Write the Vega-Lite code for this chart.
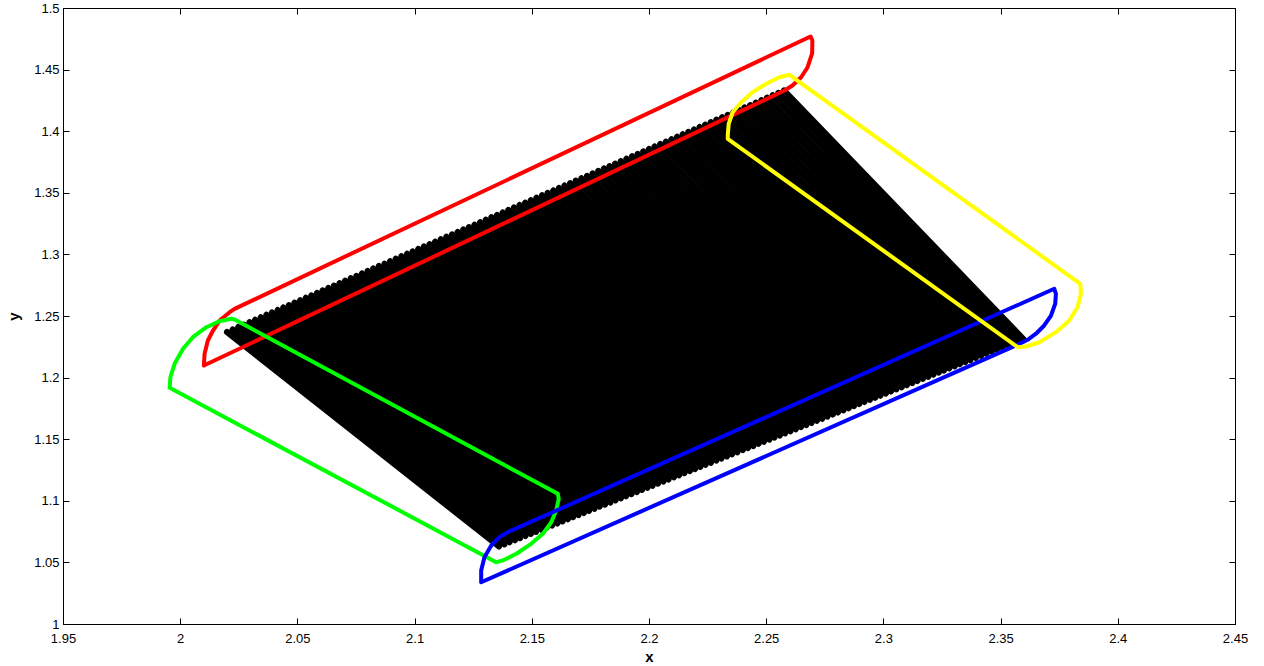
{
"$schema":"https://vega.github.io/schema/vega-lite/v6.json",
"width":1172,"height":616,
"autosize":{"type":"none"},
"padding":{"left":63,"top":8,"right":29,"bottom":42},
"background":"white",
"config":{"view":{"stroke":"black","strokeWidth":1},"axis":{"labelFont":"Liberation Sans","labelFontSize":13,"labelColor":"black","tickColor":"black","domainColor":"black","grid":false,"labelFlush":false,"labelOverlap":false,"labelBound":false,"titleFont":"Liberation Sans","titleFontWeight":"bold","titleFontSize":15,"titleColor":"black","tickSize":-6,"tickWidth":1,"domainWidth":1}},
"datasets":{
"stripes":[
{"x1":2.0200,"y1":1.2370,"x2":2.1360,"y2":1.0630},
{"x1":2.0224,"y1":1.2390,"x2":2.1383,"y2":1.0647},
{"x1":2.0248,"y1":1.2410,"x2":2.1405,"y2":1.0664},
{"x1":2.0272,"y1":1.2429,"x2":2.1428,"y2":1.0681},
{"x1":2.0296,"y1":1.2449,"x2":2.1450,"y2":1.0698},
{"x1":2.0320,"y1":1.2469,"x2":2.1473,"y2":1.0715},
{"x1":2.0344,"y1":1.2489,"x2":2.1496,"y2":1.0732},
{"x1":2.0368,"y1":1.2509,"x2":2.1518,"y2":1.0749},
{"x1":2.0392,"y1":1.2528,"x2":2.1541,"y2":1.0766},
{"x1":2.0416,"y1":1.2548,"x2":2.1563,"y2":1.0783},
{"x1":2.0440,"y1":1.2568,"x2":2.1586,"y2":1.0800},
{"x1":2.0464,"y1":1.2588,"x2":2.1609,"y2":1.0817},
{"x1":2.0488,"y1":1.2608,"x2":2.1631,"y2":1.0834},
{"x1":2.0512,"y1":1.2627,"x2":2.1654,"y2":1.0851},
{"x1":2.0536,"y1":1.2647,"x2":2.1676,"y2":1.0868},
{"x1":2.0560,"y1":1.2667,"x2":2.1699,"y2":1.0885},
{"x1":2.0584,"y1":1.2687,"x2":2.1722,"y2":1.0902},
{"x1":2.0608,"y1":1.2707,"x2":2.1744,"y2":1.0919},
{"x1":2.0632,"y1":1.2726,"x2":2.1767,"y2":1.0936},
{"x1":2.0656,"y1":1.2746,"x2":2.1789,"y2":1.0953},
{"x1":2.0680,"y1":1.2766,"x2":2.1812,"y2":1.0970},
{"x1":2.0704,"y1":1.2786,"x2":2.1835,"y2":1.0987},
{"x1":2.0728,"y1":1.2806,"x2":2.1857,"y2":1.1004},
{"x1":2.0752,"y1":1.2825,"x2":2.1880,"y2":1.1021},
{"x1":2.0776,"y1":1.2845,"x2":2.1902,"y2":1.1038},
{"x1":2.0800,"y1":1.2865,"x2":2.1925,"y2":1.1055},
{"x1":2.0824,"y1":1.2885,"x2":2.1948,"y2":1.1072},
{"x1":2.0848,"y1":1.2905,"x2":2.1970,"y2":1.1089},
{"x1":2.0872,"y1":1.2924,"x2":2.1993,"y2":1.1106},
{"x1":2.0896,"y1":1.2944,"x2":2.2015,"y2":1.1123},
{"x1":2.0920,"y1":1.2964,"x2":2.2038,"y2":1.1140},
{"x1":2.0944,"y1":1.2984,"x2":2.2061,"y2":1.1157},
{"x1":2.0968,"y1":1.3004,"x2":2.2083,"y2":1.1174},
{"x1":2.0992,"y1":1.3023,"x2":2.2106,"y2":1.1191},
{"x1":2.1016,"y1":1.3043,"x2":2.2128,"y2":1.1208},
{"x1":2.1040,"y1":1.3063,"x2":2.2151,"y2":1.1225},
{"x1":2.1064,"y1":1.3083,"x2":2.2174,"y2":1.1242},
{"x1":2.1088,"y1":1.3103,"x2":2.2196,"y2":1.1259},
{"x1":2.1112,"y1":1.3122,"x2":2.2219,"y2":1.1276},
{"x1":2.1136,"y1":1.3142,"x2":2.2241,"y2":1.1293},
{"x1":2.1160,"y1":1.3162,"x2":2.2264,"y2":1.1310},
{"x1":2.1184,"y1":1.3182,"x2":2.2287,"y2":1.1327},
{"x1":2.1208,"y1":1.3202,"x2":2.2309,"y2":1.1344},
{"x1":2.1232,"y1":1.3221,"x2":2.2332,"y2":1.1361},
{"x1":2.1256,"y1":1.3241,"x2":2.2354,"y2":1.1378},
{"x1":2.1280,"y1":1.3261,"x2":2.2377,"y2":1.1395},
{"x1":2.1304,"y1":1.3281,"x2":2.2400,"y2":1.1412},
{"x1":2.1328,"y1":1.3301,"x2":2.2422,"y2":1.1429},
{"x1":2.1352,"y1":1.3320,"x2":2.2445,"y2":1.1446},
{"x1":2.1376,"y1":1.3340,"x2":2.2467,"y2":1.1463},
{"x1":2.1400,"y1":1.3360,"x2":2.2490,"y2":1.1480},
{"x1":2.1424,"y1":1.3380,"x2":2.2513,"y2":1.1497},
{"x1":2.1448,"y1":1.3400,"x2":2.2535,"y2":1.1514},
{"x1":2.1472,"y1":1.3419,"x2":2.2558,"y2":1.1531},
{"x1":2.1496,"y1":1.3439,"x2":2.2580,"y2":1.1548},
{"x1":2.1520,"y1":1.3459,"x2":2.2603,"y2":1.1565},
{"x1":2.1544,"y1":1.3479,"x2":2.2626,"y2":1.1582},
{"x1":2.1568,"y1":1.3499,"x2":2.2648,"y2":1.1599},
{"x1":2.1592,"y1":1.3518,"x2":2.2671,"y2":1.1616},
{"x1":2.1616,"y1":1.3538,"x2":2.2693,"y2":1.1633},
{"x1":2.1640,"y1":1.3558,"x2":2.2716,"y2":1.1650},
{"x1":2.1664,"y1":1.3578,"x2":2.2739,"y2":1.1667},
{"x1":2.1688,"y1":1.3598,"x2":2.2761,"y2":1.1684},
{"x1":2.1712,"y1":1.3617,"x2":2.2784,"y2":1.1701},
{"x1":2.1736,"y1":1.3637,"x2":2.2806,"y2":1.1718},
{"x1":2.1760,"y1":1.3657,"x2":2.2829,"y2":1.1735},
{"x1":2.1784,"y1":1.3677,"x2":2.2852,"y2":1.1752},
{"x1":2.1808,"y1":1.3697,"x2":2.2874,"y2":1.1769},
{"x1":2.1832,"y1":1.3716,"x2":2.2897,"y2":1.1786},
{"x1":2.1856,"y1":1.3736,"x2":2.2919,"y2":1.1803},
{"x1":2.1880,"y1":1.3756,"x2":2.2942,"y2":1.1820},
{"x1":2.1904,"y1":1.3776,"x2":2.2965,"y2":1.1837},
{"x1":2.1928,"y1":1.3796,"x2":2.2987,"y2":1.1854},
{"x1":2.1952,"y1":1.3815,"x2":2.3010,"y2":1.1871},
{"x1":2.1976,"y1":1.3835,"x2":2.3032,"y2":1.1888},
{"x1":2.2000,"y1":1.3855,"x2":2.3055,"y2":1.1905},
{"x1":2.2024,"y1":1.3875,"x2":2.3078,"y2":1.1922},
{"x1":2.2048,"y1":1.3895,"x2":2.3100,"y2":1.1939},
{"x1":2.2072,"y1":1.3914,"x2":2.3123,"y2":1.1956},
{"x1":2.2096,"y1":1.3934,"x2":2.3145,"y2":1.1973},
{"x1":2.2120,"y1":1.3954,"x2":2.3168,"y2":1.1990},
{"x1":2.2144,"y1":1.3974,"x2":2.3191,"y2":1.2007},
{"x1":2.2168,"y1":1.3994,"x2":2.3213,"y2":1.2024},
{"x1":2.2192,"y1":1.4013,"x2":2.3236,"y2":1.2041},
{"x1":2.2216,"y1":1.4033,"x2":2.3258,"y2":1.2058},
{"x1":2.2240,"y1":1.4053,"x2":2.3281,"y2":1.2075},
{"x1":2.2264,"y1":1.4073,"x2":2.3304,"y2":1.2092},
{"x1":2.2288,"y1":1.4093,"x2":2.3326,"y2":1.2109},
{"x1":2.2312,"y1":1.4112,"x2":2.3349,"y2":1.2126},
{"x1":2.2336,"y1":1.4132,"x2":2.3371,"y2":1.2143},
{"x1":2.2360,"y1":1.4152,"x2":2.3394,"y2":1.2160},
{"x1":2.2384,"y1":1.4172,"x2":2.3417,"y2":1.2177},
{"x1":2.2408,"y1":1.4192,"x2":2.3439,"y2":1.2194},
{"x1":2.2432,"y1":1.4211,"x2":2.3462,"y2":1.2211},
{"x1":2.2456,"y1":1.4231,"x2":2.3484,"y2":1.2228},
{"x1":2.2480,"y1":1.4251,"x2":2.3507,"y2":1.2245},
{"x1":2.2504,"y1":1.4271,"x2":2.3530,"y2":1.2262},
{"x1":2.2528,"y1":1.4291,"x2":2.3552,"y2":1.2279},
{"x1":2.2552,"y1":1.4310,"x2":2.3575,"y2":1.2296},
{"x1":2.2576,"y1":1.4330,"x2":2.3597,"y2":1.2313}
],
"outlines":[
{"s":"red","o":0,"x":2.0101,"y":1.2098},
{"s":"red","o":1,"x":2.0104,"y":1.2193},
{"s":"red","o":2,"x":2.0118,"y":1.2301},
{"s":"red","o":3,"x":2.0140,"y":1.2382},
{"s":"red","o":4,"x":2.0168,"y":1.2463},
{"s":"red","o":5,"x":2.0211,"y":1.2531},
{"s":"red","o":6,"x":2.0232,"y":1.2558},
{"s":"red","o":7,"x":2.2689,"y":1.4769},
{"s":"red","o":8,"x":2.2697,"y":1.4736},
{"s":"red","o":9,"x":2.2696,"y":1.4631},
{"s":"red","o":10,"x":2.2676,"y":1.4517},
{"s":"red","o":11,"x":2.2649,"y":1.4438},
{"s":"red","o":12,"x":2.2612,"y":1.4371},
{"s":"red","o":13,"x":2.2578,"y":1.4330},
{"s":"red","o":14,"x":2.0101,"y":1.2098},
{"s":"green","o":0,"x":1.9955,"y":1.1917},
{"s":"green","o":1,"x":1.9958,"y":1.2003},
{"s":"green","o":2,"x":1.9976,"y":1.2112},
{"s":"green","o":3,"x":2.0012,"y":1.2234},
{"s":"green","o":4,"x":2.0054,"y":1.2328},
{"s":"green","o":5,"x":2.0112,"y":1.2409},
{"s":"green","o":6,"x":2.0168,"y":1.2458},
{"s":"green","o":7,"x":2.0218,"y":1.2477},
{"s":"green","o":8,"x":2.0232,"y":1.2472},
{"s":"green","o":9,"x":2.1611,"y":1.1057},
{"s":"green","o":10,"x":2.1615,"y":1.1016},
{"s":"green","o":11,"x":2.1604,"y":1.0921},
{"s":"green","o":12,"x":2.1583,"y":1.0826},
{"s":"green","o":13,"x":2.1547,"y":1.0732},
{"s":"green","o":14,"x":2.1497,"y":1.0651},
{"s":"green","o":15,"x":2.1434,"y":1.0570},
{"s":"green","o":16,"x":2.1376,"y":1.0515},
{"s":"green","o":17,"x":2.1348,"y":1.0502},
{"s":"green","o":18,"x":1.9955,"y":1.1917},
{"s":"blue","o":0,"x":2.1284,"y":1.0339},
{"s":"blue","o":1,"x":2.1284,"y":1.0434},
{"s":"blue","o":2,"x":2.1298,"y":1.0542},
{"s":"blue","o":3,"x":2.1327,"y":1.0637},
{"s":"blue","o":4,"x":2.1362,"y":1.0705},
{"s":"blue","o":5,"x":2.1405,"y":1.0753},
{"s":"blue","o":6,"x":2.1455,"y":1.0794},
{"s":"blue","o":7,"x":2.3729,"y":1.2721},
{"s":"blue","o":8,"x":2.3736,"y":1.2680},
{"s":"blue","o":9,"x":2.3733,"y":1.2599},
{"s":"blue","o":10,"x":2.3715,"y":1.2504},
{"s":"blue","o":11,"x":2.3686,"y":1.2423},
{"s":"blue","o":12,"x":2.3651,"y":1.2356},
{"s":"blue","o":13,"x":2.3615,"y":1.2307},
{"s":"blue","o":14,"x":2.3580,"y":1.2274},
{"s":"blue","o":15,"x":2.1284,"y":1.0339},
{"s":"yellow","o":0,"x":2.2599,"y":1.4458},
{"s":"yellow","o":1,"x":2.2556,"y":1.4438},
{"s":"yellow","o":2,"x":2.2500,"y":1.4385},
{"s":"yellow","o":3,"x":2.2442,"y":1.4317},
{"s":"yellow","o":4,"x":2.2393,"y":1.4235},
{"s":"yellow","o":5,"x":2.2357,"y":1.4154},
{"s":"yellow","o":6,"x":2.2340,"y":1.4060},
{"s":"yellow","o":7,"x":2.2336,"y":1.3965},
{"s":"yellow","o":8,"x":2.2336,"y":1.3938},
{"s":"yellow","o":9,"x":2.3573,"y":1.2247},
{"s":"yellow","o":10,"x":2.3608,"y":1.2252},
{"s":"yellow","o":11,"x":2.3665,"y":1.2287},
{"s":"yellow","o":12,"x":2.3736,"y":1.2369},
{"s":"yellow","o":13,"x":2.3793,"y":1.2463},
{"s":"yellow","o":14,"x":2.3828,"y":1.2571},
{"s":"yellow","o":15,"x":2.3843,"y":1.2680},
{"s":"yellow","o":16,"x":2.3840,"y":1.2761},
{"s":"yellow","o":17,"x":2.2599,"y":1.4458}
]
},
"layer":[
{"data":{"name":"stripes"},
"mark":{"type":"rule","color":"black","strokeWidth":6.2,"strokeCap":"round"},
"encoding":{
"x":{"field":"x1","type":"quantitative","scale":{"domain":[1.95,2.45],"nice":false,"zero":false},"axis":{"values":[1.95,2,2.05,2.1,2.15,2.2,2.25,2.3,2.35,2.4,2.45],"format":".2~f","title":"x","labelPadding":14,"titlePadding":4}},
"y":{"field":"y1","type":"quantitative","scale":{"domain":[1,1.5],"nice":false,"zero":false},"axis":{"values":[1,1.05,1.1,1.15,1.2,1.25,1.3,1.35,1.4,1.45,1.5],"format":".2~f","title":"y","labelPadding":10,"titlePadding":12}},
"x2":{"field":"x2"},
"y2":{"field":"y2"}}},
{"data":{"name":"outlines"},
"mark":{"type":"line","strokeWidth":4,"strokeJoin":"round","strokeCap":"round"},
"encoding":{
"x":{"field":"x","type":"quantitative","scale":{"domain":[1.95,2.45],"nice":false,"zero":false},"axis":{"values":[1.95,2,2.05,2.1,2.15,2.2,2.25,2.3,2.35,2.4,2.45],"labels":false,"title":null}},
"y":{"field":"y","type":"quantitative","scale":{"domain":[1,1.5],"nice":false,"zero":false},"axis":{"values":[1,1.05,1.1,1.15,1.2,1.25,1.3,1.35,1.4,1.45,1.5],"labels":false,"title":null}},
"color":{"field":"s","type":"nominal","scale":{"domain":["red","green","blue","yellow"],"range":["#ff0000","#00ff00","#0000ff","#ffff00"]},"legend":null},
"order":{"field":"o","type":"quantitative"}}}
],
"resolve":{"axis":{"x":"independent","y":"independent"}}
}
